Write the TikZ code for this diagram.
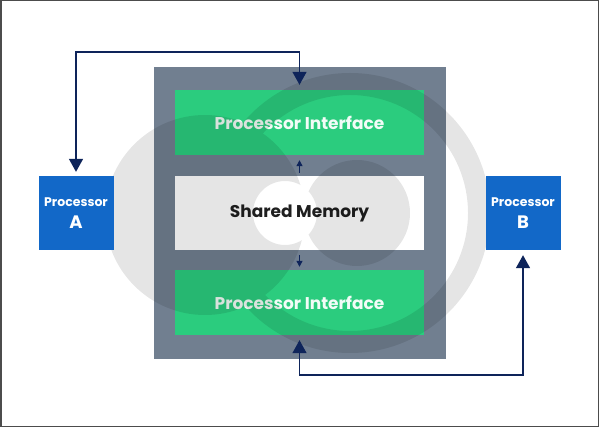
\documentclass[tikz,border=0pt]{standalone}
\usepackage{fontspec}
\setmainfont{Poppins}
\usetikzlibrary{arrows.meta}

\definecolor{slate}{RGB}{113,127,144}
\definecolor{mint}{RGB}{43,204,126}
\definecolor{procblue}{RGB}{18,104,200}
\definecolor{navy}{RGB}{14,36,90}

\tikzset{
  box/.style={rectangle, inner sep=0pt, font=\bfseries},
  iface/.style={box, fill=mint, text=white!94!mint, minimum width=249pt, minimum height=65pt, font=\bfseries\fontsize{17}{20}\selectfont},
  proc/.style={box, fill=procblue, text=white, minimum width=75pt, minimum height=74pt, align=center, font=\bfseries\fontsize{12.5}{14}\selectfont},
  link/.style={draw=navy, line width=1.5pt, {Triangle[width=14pt,length=13pt]}-{Triangle[width=14pt,length=13pt]}},
  tick/.style={draw=navy, line width=1.2pt, -{Triangle[width=6pt,length=6pt]}}
}

\begin{document}
\begin{tikzpicture}[x=1pt, y=-1pt]
  \useasboundingbox (0,0) rectangle (599,427);
  \fill[white] (0,0) rectangle (599,427);
  \draw[line width=1.5pt, draw=black!70] (0.75,0.75) rectangle (598.25,426.25);

  \node[box, fill=slate, minimum width=292pt, minimum height=292pt] (memblock) at (300,213) {};
  \node[iface] (ifaceA) at (299.5,122.5) {Processor Interface};
  \node[box, fill=white, text=black!88, minimum width=249pt, minimum height=74pt,
        font=\bfseries\fontsize{17}{20}\selectfont] (shared) at (299.5,213) {Shared Memory};
  \node[iface] (ifaceB) at (299.5,302.5) {Processor Interface};

  % watermark
  \begin{scope}[transparency group, opacity=0.1, even odd rule]
    \clip (-5,-5) rectangle (605,435) (285,213) circle[radius=32];
    \fill (205,215) circle[radius=100];
    \fill (357,213) circle[radius=53];
    \fill (350,213) circle[radius=140] circle[radius=118];
  \end{scope}

  \node[proc] (procA) at (76,213) {Processor\\[8pt]{\fontsize{18}{20}\selectfont A}};
  \node[proc] (procB) at (523,213) {Processor\\[8pt]{\fontsize{18}{20}\selectfont B}};

  \draw[link, shorten <=4pt, shorten >=5pt] (procA.north) -- ++(0,-124) -| (ifaceA.north);
  \draw[link, shorten <=5pt, shorten >=5pt] (ifaceB.south) -- ++(0,40) -| (procB.south);

  \draw[tick, shorten <=3pt, shorten >=5pt] (shared.north) -- (ifaceA.south);
  \draw[tick, shorten <=5pt, shorten >=3pt] (shared.south) -- (ifaceB.north);
\end{tikzpicture}
\end{document}
